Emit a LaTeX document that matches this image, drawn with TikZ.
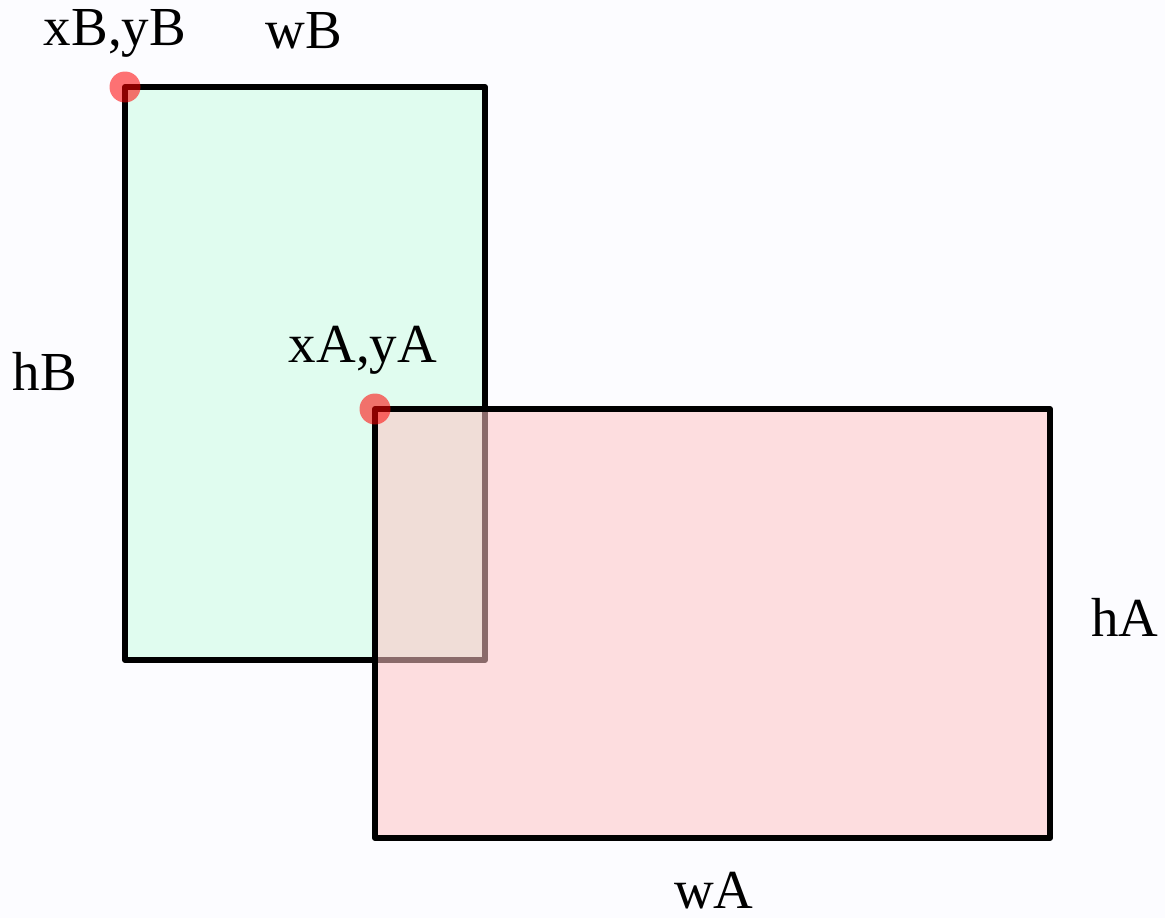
\documentclass[tikz,border=0pt]{standalone}
\usepackage{fontspec}
\setmainfont{Liberation Serif}
\definecolor{bgc}{RGB}{252,252,255}
\definecolor{greenfill}{RGB}{224,252,239}
\definecolor{pinkfill}{RGB}{255,196,196}
\begin{document}
\begin{tikzpicture}[x=1pt,y=-1pt,
  box/.style={draw=black,line width=6pt,line join=round,line cap=round},
  dot/.style={fill=red,fill opacity=0.55,draw=none},
  lbl/.style={anchor=base,inner sep=0pt,font=\fontsize{55}{62}\selectfont}]
\fill[bgc] (0,0) rectangle (1165,918);
\useasboundingbox (0,0) rectangle (1165,918);
% rectangle B
\coordinate (Btl) at (125,87);
\coordinate (Bbr) at (485,660);
\fill[greenfill] (Btl) rectangle (Bbr);
\draw[box] (Btl) rectangle (Bbr);
% rectangle A
\coordinate (Atl) at (375,409);
\coordinate (Abr) at (1050,838);
\fill[pinkfill,fill opacity=0.54] (Atl) rectangle (Abr);
\draw[box] (Atl) rectangle (Abr);
% corner dots
\fill[dot] (Btl) circle (15.5);
\fill[dot] (Atl) circle (15.5);
% labels
\node[lbl] (lxB) at (115,45) {xB,yB};
\node[lbl] (lwB) at (304,48) {wB};
\node[lbl] (lhB) at (45,390) {hB};
\node[lbl] (lxA) at (363,362) {xA,yA};
\node[lbl] (lhA) at (1125,636) {hA};
\node[lbl] (lwA) at (714,908) {wA};
\end{tikzpicture}
\end{document}
